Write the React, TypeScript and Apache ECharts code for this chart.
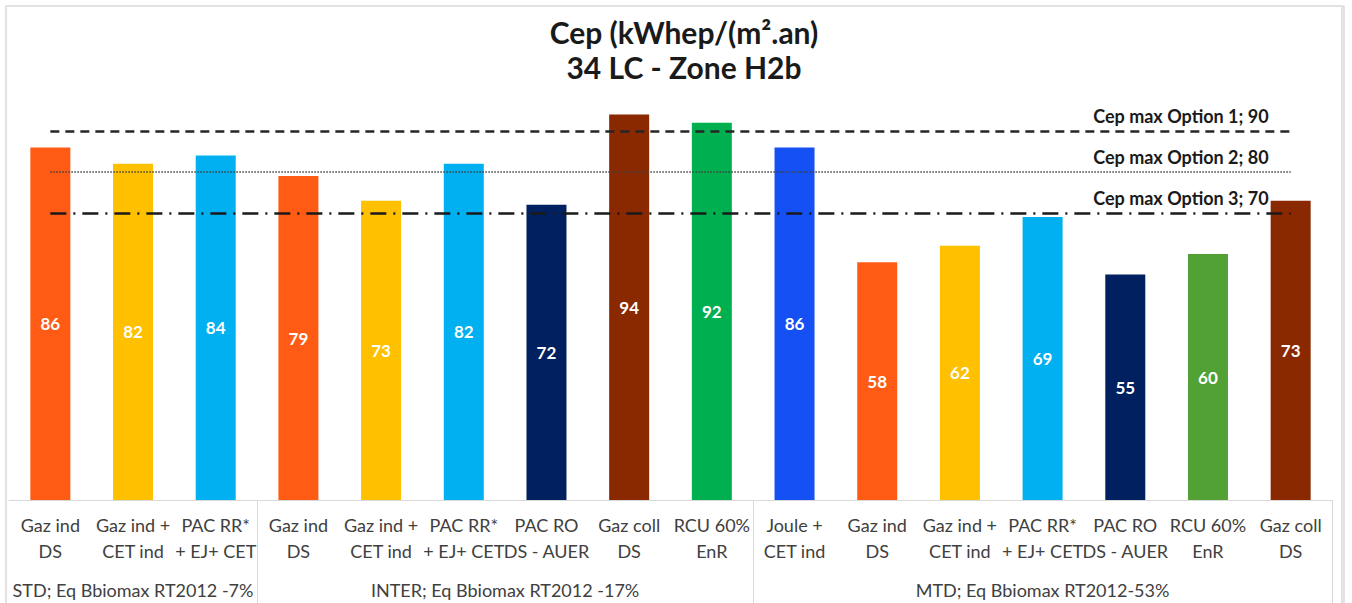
import React, { useEffect, useRef } from 'react';
import * as echarts from 'echarts';

const categories = [
  'Gaz ind\nDS', 'Gaz ind +\nCET ind', 'PAC RR*\n+ EJ+ CET',
  'Gaz ind\nDS', 'Gaz ind +\nCET ind', 'PAC RR*\n+ EJ+ CET', 'PAC RO\nDS - AUER', 'Gaz coll\nDS', 'RCU 60%\nEnR',
  'Joule +\nCET ind', 'Gaz ind\nDS', 'Gaz ind +\nCET ind', 'PAC RR*\n+ EJ+ CET', 'PAC RO\nDS - AUER', 'RCU 60%\nEnR', 'Gaz coll\nDS',
];
const values = [86, 82, 84, 79, 73, 82, 72, 94, 92, 86, 58, 62, 69, 55, 60, 73];
const barColors = [
  '#FF5B15', '#FFC000', '#00B0F0',
  '#FF5B15', '#FFC000', '#00B0F0', '#002060', '#8A2800', '#00B050',
  '#1550F5', '#FF5B15', '#FFC000', '#00B0F0', '#002060', '#52A135', '#8A2800',
];
const groupLabels = ['STD; Eq Bbiomax RT2012 -7%', 'INTER; Eq Bbiomax RT2012 -17%', 'MTD; Eq Bbiomax RT2012-53%'];
const groupSizes = [3, 6, 7];
const thresholdNames = ['Cep max Option 1', 'Cep max Option 2', 'Cep max Option 3'];
const thresholdValues = [90, 80, 70];

const FONT = 'Lato, "Open Sans", sans-serif';

export default function App() {
  const ref = useRef<HTMLDivElement>(null);
  useEffect(() => {
    document.body.style.margin = '0';
    const chart = echarts.init(ref.current!, null, { renderer: 'svg' });
    const lineStyles = [
      { type: [9, 6], width: 2.5, color: '#262626' },
      { type: [1.5, 1.5], width: 1.5, color: '#404040' },
      { type: [16, 7, 2, 7], width: 2.5, color: '#1a1a1a' },
    ];
    const last = categories.length - 1;
    chart.setOption({
      animation: false,
      backgroundColor: '#ffffff',
      title: {
        text: 'Cep (kWhep/(m².an)\n34 LC - Zone H2b',
        left: 684,
        top: 14,
        padding: 0,
        textAlign: 'center',
        textStyle: { fontFamily: FONT, fontWeight: 'bold', fontSize: 30, lineHeight: 35, color: '#1a1a1a' },
      },
      grid: { left: 9, right: 20, top: 90, bottom: 103 },
      xAxis: {
        type: 'category',
        data: categories,
        axisLine: { lineStyle: { color: '#d9d9d9', width: 1 } },
        axisTick: { show: false },
        axisLabel: {
          interval: 0,
          margin: 12,
          fontFamily: FONT,
          fontSize: 18,
          lineHeight: 26,
          color: '#404040',
        },
      },
      yAxis: { type: 'value', min: 0, max: 100, show: false, splitLine: { show: false } },
      series: [
        {
          type: 'bar',
          barWidth: 40,
          data: values.map((v, i) => ({ value: v, itemStyle: { color: barColors[i] } })),
          label: {
            show: true,
            position: 'inside',
            color: '#ffffff',
            fontFamily: FONT,
            fontWeight: 'bold',
            fontSize: 17,
          },
          markLine: {
            silent: true,
            symbol: 'none',
            z: 10,
            data: thresholdValues.map((v, i) => [
              {
                coord: [0, v],
                lineStyle: lineStyles[i],
                label: {
                  show: true,
                  position: 'insideEndTop',
                  distance: [22, 6],
                  formatter: `${thresholdNames[i]}; ${v}`,
                  fontFamily: FONT,
                  fontWeight: 'bold',
                  fontSize: 18,
                  color: '#1a1a1a',
                },
              },
              { coord: [last, v] },
            ]),
          },
        },
      ],
    });

    const p0 = chart.convertToPixel({ xAxisIndex: 0 }, 0) as number;
    const p1 = chart.convertToPixel({ xAxisIndex: 0 }, 1) as number;
    const band = p1 - p0;
    const leftEdge = p0 - band / 2;
    const axisY = chart.convertToPixel({ yAxisIndex: 0 }, 0) as number;
    const graphics: any[] = [];
    let start = 0;
    const boundaries = [0];
    groupSizes.forEach((n, gi) => {
      const cx = leftEdge + (start + n / 2) * band;
      graphics.push({
        type: 'text',
        x: cx,
        y: 590,
        style: {
          text: groupLabels[gi],
          fontFamily: FONT,
          fontSize: 18,
          fill: '#404040',
          align: 'center',
          verticalAlign: 'middle',
        },
      });
      start += n;
      boundaries.push(start);
    });
    boundaries.slice(1).forEach((b) => {
      const x = Math.round(leftEdge + b * band) + 0.5;
      graphics.push({
        type: 'line',
        shape: { x1: x, y1: axisY, x2: x, y2: 603 },
        style: { stroke: '#d9d9d9', lineWidth: 1 },
      });
    });
    graphics.push({
      type: 'rect',
      shape: { x: 6, y: 6, width: 1337, height: 700 },
      style: { fill: 'none', stroke: '#d9d9d9', lineWidth: 1.5 },
      z: -1,
    });
    graphics.push({
      type: 'rect',
      shape: { x: 1341, y: 6, width: 4, height: 600 },
      style: { fill: '#e3e3e3' },
      z: -1,
    });
    chart.setOption({ graphic: graphics });

    return () => chart.dispose();
  }, []);
  return <div ref={ref} style={{ width: 1352, height: 603 }} />;
}
